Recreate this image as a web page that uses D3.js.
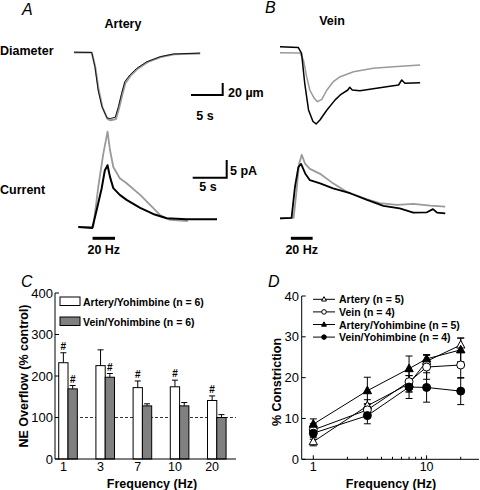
<!DOCTYPE html>
<html><head><meta charset="utf-8">
<script src="https://cdn.jsdelivr.net/npm/d3@7"></script>
<style>body{margin:0;background:#fff} svg{display:block;font-family:"Liberation Sans",Arial,Helvetica,sans-serif}</style>
</head><body><svg id="c" width="480" height="490"></svg>
<script>
// ---------- Panel A/B traces: [time (s), value] ----------
const arteryDiamBlack = [[0,0.5],[2.8,0],[3.3,-23.7],[3.8,-62.5],[4.4,-90],[5.2,-109],[5.7,-110],[6.5,-108],[7.0,-90],[7.5,-68],[8.0,-48.7],[8.8,-37.5],[9.9,-26.3],[11.5,-15.3],[13.6,-7],[15.7,-2.5],[19.9,-1]];
const arteryDiamGray  = [[0,0],[2.8,0],[3.35,-24],[3.9,-63],[4.5,-92],[5.3,-111],[5.8,-113],[6.6,-111],[7.1,-93],[7.6,-71],[8.1,-51],[8.9,-39],[10.0,-27.5],[11.6,-16],[13.7,-7.5],[15.8,-3],[19.9,-1.5]];
const arteryCurBlack = [[0,0],[2.06,-0.3],[2.7,4.8],[3.44,11],[3.9,16],[4.3,17.5],[4.66,14.2],[5.15,11],[6.1,9.1],[7.1,7.7],[9.1,5.4],[11.0,3.7],[13.0,2.5],[15.9,2.2],[20.4,2.2]];
const arteryCurGray  = [[0,0],[2.2,0],[2.94,11.4],[3.68,20.8],[4.3,27],[4.66,21.8],[5.15,17],[6.1,13.8],[7.1,12.4],[9.1,9.1],[11.0,5.4],[12.0,3.4],[13.5,2.0],[16.1,1.7]];
const veinDiamBlack = [[0,9.7],[2.9,8.3],[3.4,-1.3],[3.9,-51.3],[4.5,-95.8],[5.2,-115],[5.7,-119],[6.3,-112.5],[7.4,-95.8],[8.7,-79],[9.5,-70.8],[10.7,-62.5],[11.0,-58],[11.4,-62.5],[12.6,-63.7],[14.7,-60.3],[16.8,-57],[18.7,-54.2],[19.2,-45.8],[19.7,-51.3],[22.1,-50.3]];
const veinDiamGray  = [[0,-0.3],[3.15,-0.8],[3.7,-12.5],[4.2,-40.3],[4.7,-62.5],[5.4,-76.3],[5.9,-82],[6.6,-78],[7.4,-62.5],[8.4,-48.7],[9.5,-40.3],[11.6,-32],[14.7,-26.3],[17.9,-23.7],[22.1,-20.8]];
const veinCurBlack = [[0,0],[1.7,0.1],[2.2,8.9],[2.7,14.5],[3.1,15.4],[3.7,12.7],[4.4,10.8],[5.9,9.9],[7.8,8.5],[10.3,7.1],[12.8,5.2],[15.2,3.5],[17.6,2.8],[19.6,1.6],[21.6,1.7],[22.5,2.6],[23.1,1.6],[24.3,1.4]];
const veinCurGray  = [[0,0],[2.0,0.1],[2.4,7.1],[2.8,15.4],[3.2,18.0],[3.7,15.4],[4.4,14.0],[5.9,12.6],[7.8,9.9],[9.8,7.5],[12.8,5.4],[14.7,4.3],[17.2,3.8],[19.6,4.1],[22.1,3.6],[24.3,3.3]];
const stimA = [2.1, 5.4];
const stimB = [1.6, 4.8];

// ---------- Panel C: NE overflow ----------
const freqCats = ["1","3","7","10","20"];
const arteryYoh = [232, 225, 172, 174, 141];
const arteryYohErr = [24, 38, 16, 16, 11];
const veinYoh = [169, 197, 128, 128, 100];
const veinYohErr = [8, 9, 5, 8, 7];
const arteryYohSig = [true, false, true, true, true];
const veinYohSig = [true, true, false, false, false];
const yTicksC = [0, 100, 200, 300, 400];

// ---------- Panel D: % constriction ----------
const freqs = [1, 3, 7, 10, 20];
const artery = [4.3, 13.1, 18.5, 24.0, 28.0];
const arteryErr = [1.0, 1.5, 2.0, 1.5, 1.7];
const vein = [7.2, 12.1, 19.0, 22.6, 23.1];
const veinErr = [1.5, 1.5, 2.5, 3.0, 3.2];
const arteryY = [8.6, 16.8, 22.2, 24.6, 26.8];
const arteryYErr = [1.3, 3.3, 3.1, 1.0, 2.9];
const veinY = [6.4, 10.7, 17.7, 17.6, 16.7];
const veinYErr = [1.5, 2.0, 2.8, 3.6, 3.3];
const yTicksD = [0, 10, 20, 30, 40];
const seriesD = [
  {name:"Artery (n = 5)", v:artery, e:arteryErr, shape:"tri", fill:"#fff"},
  {name:"Vein (n = 4)", v:vein, e:veinErr, shape:"circ", fill:"#fff"},
  {name:"Artery/Yohimbine (n = 5)", v:arteryY, e:arteryYErr, shape:"tri", fill:"#000"},
  {name:"Vein/Yohimbine (n = 4)", v:veinY, e:veinYErr, shape:"circ", fill:"#000"}
];

const svg = d3.select("#c");
const GRAY = "#9a9a9a";
function txt(x, y, s, o = {}) {
  const t = svg.append("text").attr("x", x).attr("y", y).text(s)
    .attr("font-size", o.size || 12.5).attr("font-weight", o.weight || "bold")
    .attr("text-anchor", o.anchor || "start").attr("fill", "#000");
  if (o.italic) t.attr("font-style", "italic");
  if (o.rotate) t.attr("transform", `rotate(-90,${x},${y})`);
  return t;
}

// ---- traces ----
const diamPxPerUm = 0.6, secPxDiam = 6.34, secPxCur = 6.8, pxPerPA = 3.53;
const yDiam = d3.scaleLinear().domain([0, -120]).range([52.5, 52.5 + 120 * diamPxPerUm]);
const tDiamA = d3.scaleLinear().domain([0, 20]).range([74, 74 + 20 * secPxDiam]);
const tDiamB = d3.scaleLinear().domain([0, 20]).range([280, 280 + 20 * secPxDiam]);
const tCurA = d3.scaleLinear().domain([0, 20]).range([78.3, 78.3 + 20 * secPxCur]);
const tCurB = d3.scaleLinear().domain([0, 20]).range([280, 280 + 20 * secPxCur]);
const yCurA = d3.scaleLinear().domain([0, 30]).range([227, 227 - 30 * pxPerPA]);
const yCurB = d3.scaleLinear().domain([0, 30]).range([218.3, 218.3 - 30 * pxPerPA]);

function trace(data, xs, ys, color, w) {
  svg.append("path").datum(data)
    .attr("d", d3.line().x(d => xs(d[0])).y(d => ys(d[1])))
    .attr("fill", "none").attr("stroke", color).attr("stroke-width", w)
    .attr("stroke-linejoin", "round");
}
trace(arteryDiamGray, tDiamA, yDiam, GRAY, 2);
trace(arteryDiamBlack, tDiamA, yDiam, "#111", 1);
trace(arteryCurGray, tCurA, yCurA, GRAY, 1.8);
trace(arteryCurBlack, tCurA, yCurA, "#000", 2);
trace(veinDiamGray, tDiamB, yDiam, GRAY, 1.5);
trace(veinDiamBlack, tDiamB, yDiam, "#000", 1.5);
trace(veinCurGray, tCurB, yCurB, GRAY, 1.8);
trace(veinCurBlack, tCurB, yCurB, "#000", 1.8);

// stimulus bars
[[stimA, tCurA], [stimB, tCurB]].forEach(([s, sc]) => {
  svg.append("line").attr("x1", sc(s[0])).attr("x2", sc(s[1])).attr("y1", 238.3).attr("y2", 238.3)
    .attr("stroke", "#000").attr("stroke-width", 3);
  txt((sc(s[0]) + sc(s[1])) / 2, 254, "20 Hz", {anchor: "middle"});
});

// scale bars
function scaleBar(x, y, wPx, hPx) {
  svg.append("path").attr("d", `M${x},${y}H${x + wPx}V${y - hPx}`)
    .attr("fill", "none").attr("stroke", "#000").attr("stroke-width", 2);
}
scaleBar(191, 95, tDiamA(5) - tDiamA(0), yDiam(-20) - yDiam(0));
txt(228, 97, "20 \u00b5m");
txt(205, 120, "5 s", {anchor: "middle"});
scaleBar(192.7, 177.7, tCurA(5) - tCurA(0), yCurA(0) - yCurA(5));
txt(230, 175, "5 pA");
txt(208, 191, "5 s", {anchor: "middle"});

// headings
txt(22, 15, "A", {italic: true, weight: "normal", size: 16});
txt(265, 13, "B", {italic: true, weight: "normal", size: 16});
txt(123, 28, "Artery", {anchor: "middle"});
txt(332, 25, "Vein", {anchor: "middle"});
txt(0, 55, "Diameter");
txt(0, 194, "Current");

// ---- Panel C ----
const yC = d3.scaleLinear().domain([0, 400]).range([459, 293]);
const xC = d3.scaleBand().domain(freqCats).range([55, 229.8]).paddingInner(0.5).paddingOuter(0.1);
const bw = xC.bandwidth() / 2;
svg.append("line").attr("x1", 55).attr("x2", 236).attr("y1", yC(100)).attr("y2", yC(100))
  .attr("stroke", "#000").attr("stroke-width", 0.8).attr("stroke-dasharray", "3,2");
freqCats.forEach((c, i) => {
  const x0 = xC(c);
  [[x0, arteryYoh[i], arteryYohErr[i], "#fff", arteryYohSig[i]],
   [x0 + bw, veinYoh[i], veinYohErr[i], "#808080", veinYohSig[i]]].forEach(([x, v, e, f, sig]) => {
    const cx = x + bw / 2;
    svg.append("line").attr("x1", cx).attr("x2", cx).attr("y1", yC(v)).attr("y2", yC(v + e)).attr("stroke", "#000").attr("stroke-width", 1);
    svg.append("line").attr("x1", cx - 3).attr("x2", cx + 3).attr("y1", yC(v + e)).attr("y2", yC(v + e)).attr("stroke", "#000").attr("stroke-width", 1);
    svg.append("rect").attr("x", x).attr("width", bw).attr("y", yC(v)).attr("height", yC(0) - yC(v))
      .attr("fill", f).attr("stroke", "#000").attr("stroke-width", 1);
    if (sig) txt(cx, yC(v + e) - 3, "#", {anchor: "middle", size: 10});
  });
  txt(x0 + bw / 2, 471, c, {anchor: "middle", weight: "normal", size: 12.5});
});
svg.append("path").attr("d", `M55,${yC(400)}V${yC(0)}H236`).attr("fill", "none").attr("stroke", "#000").attr("stroke-width", 1);
yTicksC.forEach(t => {
  svg.append("line").attr("x1", 55).attr("x2", 59).attr("y1", yC(t)).attr("y2", yC(t)).attr("stroke", "#000");
  txt(53, yC(t) + 4.5, t, {anchor: "end", weight: "normal", size: 13});
});
svg.append("rect").attr("x", 60).attr("y", 297).attr("width", 20).attr("height", 8.5).attr("fill", "#fff").attr("stroke", "#000");
svg.append("rect").attr("x", 60).attr("y", 317).attr("width", 20).attr("height", 8.5).attr("fill", "#808080").attr("stroke", "#000");
txt(83, 305.5, "Artery/Yohimbine (n = 6)", {size: 10.5});
txt(83, 325.5, "Vein/Yohimbine (n = 6)", {size: 10.5});
txt(28, 376, "NE Overflow (% control)", {anchor: "middle", rotate: true, size: 12.5});
txt(152, 488, "Frequency (Hz)", {anchor: "middle", size: 12.5});
txt(21, 287, "C", {italic: true, weight: "normal", size: 16});

// ---- Panel D ----
const xD = d3.scaleLog().domain([0.79, 29]).range([301.7, 479]);
const yD = d3.scaleLinear().domain([0, 40]).range([459.3, 296]);
svg.append("path").attr("d", `M301.7,${yD(40)}V${yD(0)}H479`).attr("fill", "none").attr("stroke", "#000").attr("stroke-width", 1);
yTicksD.forEach(t => {
  svg.append("line").attr("x1", 301.7).attr("x2", 305.7).attr("y1", yD(t)).attr("y2", yD(t)).attr("stroke", "#000");
  txt(299, yD(t) + 4.5, t, {anchor: "end", weight: "normal", size: 13});
});
[1,2,3,4,5,6,7,8,9,10,20].forEach(t => {
  const major = (t === 1 || t === 10);
  svg.append("line").attr("x1", xD(t)).attr("x2", xD(t)).attr("y1", yD(0)).attr("y2", yD(0) - (major ? 4 : 2.5)).attr("stroke", "#000");
  if (major) txt(xD(t), 471, t, {anchor: "middle", weight: "normal", size: 12.5});
});
function marker(g, shape, fill, x, y, s) {
  if (shape === "circ") g.append("circle").attr("cx", x).attr("cy", y).attr("r", s).attr("fill", fill).attr("stroke", "#000").attr("stroke-width", 1);
  else g.append("path").attr("d", `M${x},${y - s * 1.15}L${x + s * 1.05},${y + s * 0.75}L${x - s * 1.05},${y + s * 0.75}Z`).attr("fill", fill).attr("stroke", "#000").attr("stroke-width", 1);
}
seriesD.forEach(s => {
  const pts = freqs.map((f, i) => [f, s.v[i], s.e[i]]);
  svg.append("path").datum(pts).attr("d", d3.line().x(d => xD(d[0])).y(d => yD(d[1])))
    .attr("fill", "none").attr("stroke", "#000").attr("stroke-width", 1);
  pts.forEach(d => {
    const x = xD(d[0]);
    svg.append("line").attr("x1", x).attr("x2", x).attr("y1", yD(d[1] - d[2])).attr("y2", yD(d[1] + d[2])).attr("stroke", "#000");
    [d[1] - d[2], d[1] + d[2]].forEach(v => svg.append("line").attr("x1", x - 3.5).attr("x2", x + 3.5).attr("y1", yD(v)).attr("y2", yD(v)).attr("stroke", "#000"));
  });
});
seriesD.forEach(s => freqs.forEach((f, i) => marker(svg, s.shape, s.fill, xD(f), yD(s.v[i]), 4)));
seriesD.forEach((s, i) => {
  const y = 299.3 + i * 12.6;
  svg.append("line").attr("x1", 313).attr("x2", 335).attr("y1", y).attr("y2", y).attr("stroke", "#000");
  marker(svg, s.shape, s.fill, 324, y, 2.3);
  txt(339, y + 4, s.name, {size: 10.5});
});
txt(281, 382, "% Constriction", {anchor: "middle", rotate: true, size: 12.5});
txt(391, 488, "Frequency (Hz)", {anchor: "middle", size: 12.5});
txt(268, 287, "D", {italic: true, weight: "normal", size: 16});
</script></body></html>
